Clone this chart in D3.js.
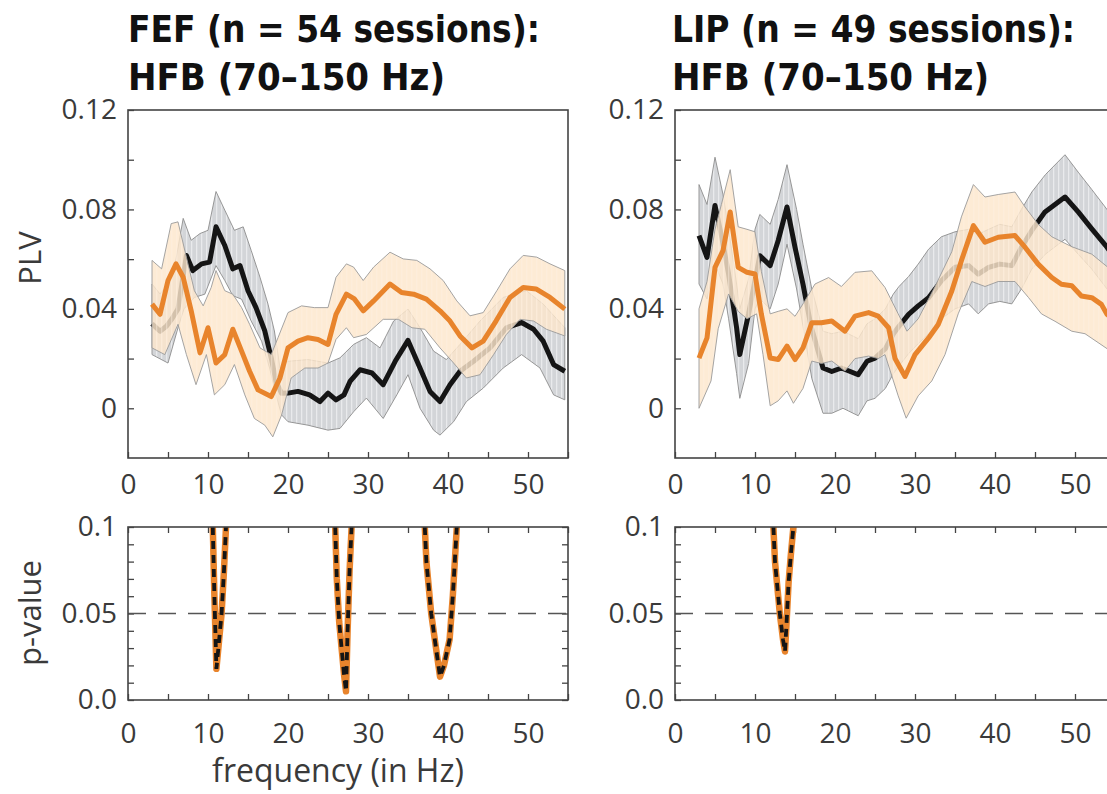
<!DOCTYPE html>
<html>
<head>
<meta charset="utf-8">
<script src="https://cdn.jsdelivr.net/npm/d3@7"></script>
<style>
    body { margin: 0; background: #fff; }
    svg text { font-family: "Open Sans", "Noto Sans", sans-serif; fill: #3a3a3a; }
    svg text.title { font-family: "DejaVu Sans Condensed", "DejaVu Sans", sans-serif; font-weight: bold; fill: #111; }
</style>
</head>
<body>
<svg id="chart" width="1107" height="794"></svg>
<script>
// 数据: [频率 Hz, 值]
const fefBlackMean = [[3,0.034],[4,0.031],[4.8,0.033],[5.5,0.036],[6.25,0.040],[7.3,0.0615],[8.1,0.0554],[9.2,0.0581],[10.2,0.0588],[11,0.0730],[12.1,0.0655],[13.1,0.0561],[14,0.0574],[15,0.0473],[16,0.0405],[17.1,0.0311],[17.9,0.0203],[18.5,0.0108],[19.2,0.006],[20,0.0061],[21.25,0.0068],[22.7,0.0054],[24,0.0027],[25,0.0061],[26,0.0034],[27,0.0054],[27.75,0.0108],[29,0.0155],[30.5,0.0142],[31.9,0.0095],[33.4,0.0189],[35,0.0273],[36.5,0.0162],[37.75,0.0068],[39,0.0027],[40.25,0.0095],[41.5,0.0149],[43.2,0.0189],[45.25,0.0243],[47.3,0.0324],[49.2,0.0345],[50.7,0.0318],[51.9,0.0270],[53.2,0.0176],[54.6,0.0149]];
const fefBlackUpper = [[3,0.050],[4,0.046],[5,0.050],[6,0.060],[6.9,0.0764],[7.9,0.0676],[9,0.0703],[10,0.0716],[11,0.0872],[12.1,0.0797],[13.3,0.0716],[14.4,0.0730],[15.4,0.0635],[16.5,0.0527],[17.5,0.0419],[18.3,0.0311],[19,0.0162],[20,0.0189],[22.5,0.0196],[25,0.0182],[26.5,0.0203],[28.2,0.0257],[29.8,0.0284],[31.5,0.0243],[33.2,0.0351],[35,0.0399],[36.5,0.0324],[38.2,0.0230],[39.8,0.0196],[41.5,0.0257],[44,0.0351],[46.9,0.0446],[49.8,0.0473],[51.9,0.0419],[54.6,0.0324]];
const fefBlackLower = [[3,0.0216],[5,0.0182],[6.25,0.0324],[7,0.040],[8.3,0.0446],[9.6,0.0459],[11,0.0574],[12.1,0.0514],[13.1,0.0453],[14.2,0.0439],[15.4,0.0351],[16.7,0.0270],[17.7,0.0162],[18.5,0.0054],[19.2,-0.0027],[20,-0.0054],[22.5,-0.0068],[25,-0.0088],[26.5,-0.0081],[28.2,-0.0014],[29.8,0.0041],[31.9,-0.0041],[33.6,0.0054],[35,0.0135],[36.5,0],[38.2,-0.0088],[39,-0.0108],[40.7,-0.0054],[42.3,0.0027],[44.4,0.0081],[46.9,0.0162],[49.2,0.0216],[51.5,0.0162],[53.2,0.0054],[54.6,0.0034]];
const fefOrangeMean = [[3,0.0419],[4,0.0378],[5,0.0514],[6,0.0581],[6.9,0.0527],[7.9,0.0392],[9,0.0223],[10,0.0324],[11,0.0182],[12.1,0.0216],[13.1,0.0318],[14.2,0.0230],[15.2,0.0149],[16.25,0.0074],[17.9,0.0047],[19,0.0122],[20,0.0243],[21.25,0.0270],[22.5,0.0284],[23.75,0.0277],[25,0.0257],[26,0.0378],[27.3,0.0459],[28.3,0.0440],[29.4,0.0392],[30.7,0.0432],[32.75,0.0500],[34.2,0.0466],[35.7,0.0459],[37.3,0.0439],[39,0.0392],[40.25,0.0351],[41.5,0.0291],[43,0.0243],[44.4,0.0270],[46,0.0351],[47.75,0.0446],[49.4,0.0486],[51,0.0480],[52.75,0.0446],[54.6,0.0399]];
const fefOrangeUpper = [[3,0.0595],[4.2,0.0561],[5.4,0.0743],[6.25,0.0750],[7.3,0.0608],[8.3,0.0473],[9.4,0.0412],[10.4,0.0486],[11,0.0554],[12.1,0.0473],[13.1,0.0459],[14.2,0.0405],[15.2,0.0338],[16.5,0.0243],[17.9,0.0216],[18.75,0.0284],[20,0.0385],[21.7,0.0412],[23.3,0.0405],[25,0.0405],[26,0.0527],[27.3,0.0581],[28.2,0.0568],[29.4,0.0514],[30.7,0.0568],[32.75,0.0628],[34.4,0.0601],[36.1,0.0595],[37.75,0.0561],[39.4,0.0514],[41.1,0.0432],[42.75,0.0372],[44.4,0.0385],[46.1,0.0473],[47.75,0.0561],[49.4,0.0615],[51.1,0.0608],[52.75,0.0581],[54.6,0.0554]];
const fefOrangeLower = [[3,0.0243],[4.6,0.0216],[6.25,0.0338],[7.3,0.0216],[8.5,0.0095],[9.8,0.0216],[10.8,0.0054],[12.1,0.0095],[13.3,0.0176],[14.6,0.0054],[15.8,-0.0041],[17.1,-0.0068],[18.1,-0.0115],[19.2,-0.0027],[20.4,0.0122],[22.1,0.0162],[23.75,0.0162],[25,0.0182],[26,0.0277],[27.3,0.0324],[28.2,0.0284],[29.8,0.0297],[31.9,0.0358],[33.8,0.0358],[35.5,0.0324],[37.1,0.0318],[39,0.0243],[40.7,0.0182],[42.3,0.0122],[44,0.0135],[45.7,0.0216],[47.3,0.0297],[49,0.0358],[50.7,0.0351],[52.3,0.0318],[54.6,0.0291]];

const lipBlackMean = [[3,0.0695],[4,0.0607],[5,0.0816],[5.8,0.0695],[6.7,0.054],[7.7,0.0324],[8.1,0.0216],[9.2,0.038],[10.6,0.0614],[11.9,0.0574],[12.9,0.0675],[14,0.081],[15,0.0648],[16,0.0499],[17,0.033],[18.5,0.0162],[19.6,0.0148],[20.8,0.0162],[21.9,0.0148],[22.9,0.0135],[24,0.0189],[25,0.0202],[26.3,0.024],[27.3,0.030],[28,0.033],[29.2,0.0378],[30.4,0.0412],[31.7,0.0445],[33.3,0.0513],[35,0.0567],[36.7,0.0574],[37.9,0.054],[39.2,0.0567],[40.6,0.058],[42.1,0.0574],[43.3,0.0648],[44.6,0.0715],[46.25,0.079],[48.75,0.085],[50.4,0.079],[52.1,0.0722],[54,0.0648],[55.5,0.058]];
const lipBlackUpper = [[3,0.090],[4,0.082],[5,0.101],[6,0.086],[6.7,0.072],[7.7,0.050],[8.1,0.040],[9.2,0.052],[10,0.072],[10.6,0.078],[11.9,0.074],[12.9,0.084],[14,0.098],[15.2,0.080],[16,0.066],[17.1,0.048],[18.5,0.031],[19.6,0.030],[21,0.031],[22.9,0.028],[24,0.034],[25,0.036],[26.3,0.040],[27.3,0.046],[28,0.049],[29.2,0.053],[30.4,0.058],[31.7,0.064],[33.3,0.069],[35,0.071],[36.7,0.072],[37.9,0.070],[39.2,0.072],[40.6,0.074],[42.1,0.073],[43.3,0.080],[44.6,0.087],[46.3,0.094],[48.75,0.102],[50.4,0.095],[52.1,0.088],[54,0.080],[55.5,0.074]];
const lipBlackLower = [[3,0.050],[4,0.044],[5,0.058],[6,0.050],[6.7,0.036],[7.7,0.014],[8.1,0.004],[9.2,0.018],[10,0.040],[10.6,0.044],[11.9,0.040],[12.9,0.050],[14,0.066],[15.2,0.048],[16,0.033],[17.1,0.012],[18.5,-0.002],[19.6,-0.002],[21,0.000],[22.9,-0.003],[24,0.003],[25,0.004],[26.3,0.008],[27.3,0.014],[28,0.017],[29.2,0.022],[30.4,0.026],[31.7,0.030],[33.3,0.036],[35,0.040],[36.7,0.042],[37.9,0.038],[39.2,0.042],[40.6,0.043],[42.1,0.042],[43.3,0.048],[44.6,0.056],[46.3,0.062],[48.75,0.068],[50.4,0.062],[52.1,0.056],[54,0.048],[55.5,0.042]];
const lipOrangeMean = [[3,0.0202],[4,0.0283],[5,0.0567],[6,0.0634],[6.9,0.079],[7.9,0.0567],[9,0.0547],[10,0.054],[10.8,0.0378],[11.9,0.0202],[12.9,0.0196],[14,0.025],[15,0.0196],[16,0.0243],[17.1,0.0344],[18.3,0.0344],[19.6,0.0351],[21.25,0.031],[22.5,0.0371],[24.2,0.0385],[25.4,0.0371],[26.7,0.0324],[27.5,0.0200],[28.75,0.0128],[30,0.0216],[31.7,0.0283],[32.9,0.0337],[34.6,0.0472],[35.8,0.0594],[37.3,0.0735],[38.75,0.0668],[40.4,0.0688],[42.5,0.0695],[43.75,0.0648],[45.4,0.058],[47.1,0.0526],[48.3,0.0499],[49.6,0.0493],[50.8,0.0452],[52.1,0.0445],[53.3,0.0418],[54,0.0378],[55.5,0.034]];
const lipOrangeUpper = [[3,0.040],[4,0.051],[5,0.072],[5.8,0.082],[6.9,0.096],[7.9,0.073],[9,0.072],[10,0.071],[10.8,0.055],[11.9,0.038],[12.9,0.039],[14,0.040],[15,0.037],[16,0.042],[17.5,0.050],[19.2,0.0526],[20.8,0.049],[22.5,0.0547],[24.6,0.0553],[26.25,0.0486],[27.9,0.038],[29,0.031],[30.4,0.036],[32.5,0.049],[34.6,0.063],[35.8,0.077],[37.3,0.090],[38.75,0.085],[40.4,0.086],[42.5,0.087],[43.75,0.081],[45.4,0.074],[47.1,0.069],[49.6,0.065],[52.1,0.062],[54,0.057],[55.5,0.053]];
const lipOrangeLower = [[3,0.000],[4.5,0.011],[5.4,0.032],[6.7,0.046],[7.9,0.039],[9,0.036],[10.2,0.038],[11,0.0216],[11.9,0.001],[12.9,0.003],[14,0.007],[14.8,0.002],[16,0.008],[17.1,0.019],[18.3,0.018],[19.6,0.019],[21.25,0.015],[22.5,0.020],[24.2,0.021],[25.4,0.020],[26.25,0.0216],[27.9,0.005],[28.9,-0.004],[30.4,0.005],[32.1,0.011],[33.75,0.0216],[35.4,0.038],[37.1,0.051],[38.75,0.049],[40.4,0.051],[42.5,0.051],[44.2,0.0445],[45.8,0.038],[47.5,0.035],[49.6,0.031],[51.25,0.030],[54,0.024],[55.5,0.020]];

// p 值曲线 (每段一个凹陷)
const fefPValues = [
    [[10.6,0.1],[10.8,0.06],[11.05,0.018],[11.4,0.035],[11.7,0.05],[12.0,0.075],[12.25,0.1]],
    [[25.9,0.1],[26.1,0.07],[26.4,0.045],[26.7,0.03],[27.0,0.015],[27.25,0.005],[27.45,0.04],[27.7,0.075],[27.95,0.1]],
    [[37.1,0.1],[37.3,0.08],[37.9,0.05],[38.5,0.03],[39.0,0.0135],[39.5,0.02],[40.2,0.035],[40.6,0.06],[41.1,0.1]]
];
const lipPValues = [
    [[12.3,0.1],[12.5,0.08],[13.1,0.05],[13.5,0.035],[13.75,0.028],[13.95,0.045],[14.2,0.068],[14.5,0.085],[14.8,0.1]]
];

// 刻度
const freqTicks = [0, 5, 10, 15, 20, 25, 30, 35, 40, 45, 50, 55];
const plvTicks = [0, 0.02, 0.04, 0.06, 0.08, 0.10, 0.12];
const plvLabelValues = [0, 0.04, 0.08, 0.12];
const plvLabelText = ["0", "0.04", "0.08", "0.12"];
const pTicks = [0, 0.01, 0.02, 0.03, 0.04, 0.05, 0.06, 0.07, 0.08, 0.09, 0.1];
const pLabelValues = [0, 0.05, 0.1];
const pLabelText = ["0.0", "0.05", "0.1"];
const pThreshold = 0.05;

const panels = [
    { left: 128, titleX: 128, title: ["FEF (n = 54 sessions):", "HFB (70–150 Hz)"], titleLen: [412, 317],
      blackMean: fefBlackMean, blackUpper: fefBlackUpper, blackLower: fefBlackLower,
      orangeMean: fefOrangeMean, orangeUpper: fefOrangeUpper, orangeLower: fefOrangeLower, pValues: fefPValues },
    { left: 675, titleX: 672, title: ["LIP (n = 49 sessions):", "HFB (70–150 Hz)"], titleLen: [403, 317],
      blackMean: lipBlackMean, blackUpper: lipBlackUpper, blackLower: lipBlackLower,
      orangeMean: lipOrangeMean, orangeUpper: lipOrangeUpper, orangeLower: lipOrangeLower, pValues: lipPValues }
];

const ORANGE = "#e8842c";
const BLACK = "#151515";
const plotW = 440;
const topY = 110, topH = 348;
const botY = 527, botH = 173;

const svg = d3.select("#chart");

// 竖条纹填充 (MATLAB 风格)
const defs = svg.append("defs");
function stripePattern(id, base, baseOpacity, stripe, stripeOpacity) {
    const p = defs.append("pattern")
        .attr("id", id)
        .attr("patternUnits", "userSpaceOnUse")
        .attr("width", 5)
        .attr("height", 10);
    p.append("rect").attr("width", 5).attr("height", 10)
        .attr("fill", base).attr("fill-opacity", baseOpacity);
    p.append("rect").attr("x", 3).attr("width", 1.3).attr("height", 10)
        .attr("fill", stripe).attr("fill-opacity", stripeOpacity);
}
stripePattern("grayStripes", "#d3d5d8", 1, "#e9eaec", 1);
stripePattern("orangeStripes", "#fce6cc", 0.82, "#fdf1e2", 0.45);

const x = d3.scaleLinear().domain([0, 55]).range([0, plotW]);
const yPlv = d3.scaleLinear().domain([-0.02, 0.12]).range([topH, 0]);
const yP = d3.scaleLinear().domain([0, 0.1]).range([botH, 0]);

const linePlv = d3.line().x(d => x(d[0])).y(d => yPlv(d[1]));
const lineP = d3.line().x(d => x(d[0])).y(d => yP(d[1]));

function bandPath(upper, lower) {
    return linePlv(upper.concat(lower.slice().reverse())) + "Z";
}

function labelFormat(values, texts) {
    return v => {
        const i = values.indexOf(v);
        return i < 0 ? "" : texts[i];
    };
}

function styleAxis(g) {
    g.select(".domain").remove();
    g.selectAll(".tick line").attr("stroke", "#444").attr("stroke-width", 1.3);
    g.selectAll(".tick text")
        .attr("fill", "#3a3a3a")
        .style("font-size", "28px")
        .style("font-family", "'Open Sans', sans-serif");
}

function drawPlvPanel(p, idx) {
    const g = svg.append("g").attr("transform", `translate(${p.left},${topY})`);

    g.append("clipPath").attr("id", "clipTop" + idx)
        .append("rect").attr("width", plotW).attr("height", topH);

    const plot = g.append("g").attr("clip-path", `url(#clipTop${idx})`);

    // 黑色置信带和均值
    plot.append("path")
        .attr("d", bandPath(p.blackUpper, p.blackLower))
        .attr("fill", "url(#grayStripes)")
        .attr("stroke", "#8c8c8c")
        .attr("stroke-width", 0.9);
    plot.append("path")
        .datum(p.blackMean)
        .attr("d", linePlv)
        .attr("fill", "none")
        .attr("stroke", BLACK)
        .attr("stroke-width", 5)
        .attr("stroke-linejoin", "round");

    // 橙色置信带 (半透明) 和均值
    plot.append("path")
        .attr("d", bandPath(p.orangeUpper, p.orangeLower))
        .attr("fill", "url(#orangeStripes)")
        .attr("stroke", "#9a9a9a")
        .attr("stroke-width", 0.9);
    plot.append("path")
        .datum(p.orangeMean)
        .attr("d", linePlv)
        .attr("fill", "none")
        .attr("stroke", ORANGE)
        .attr("stroke-width", 5)
        .attr("stroke-linejoin", "round");

    // 坐标轴
    g.append("g")
        .attr("transform", `translate(0,${topH})`)
        .call(d3.axisBottom(x).tickValues(freqTicks).tickSize(-6).tickPadding(16)
            .tickFormat(v => v % 10 === 0 ? v : ""))
        .call(styleAxis);
    g.append("g")
        .call(d3.axisLeft(yPlv).tickValues(plvTicks).tickSize(-6).tickPadding(11)
            .tickFormat(labelFormat(plvLabelValues, plvLabelText)))
        .call(styleAxis);

    g.append("rect")
        .attr("width", plotW).attr("height", topH)
        .attr("fill", "none").attr("stroke", "#444").attr("stroke-width", 1.6);

    // 标题
    p.title.forEach((t, i) => {
        svg.append("text")
            .attr("class", "title")
            .attr("x", p.titleX)
            .attr("y", 42 + i * 48)
            .attr("textLength", p.titleLen[i])
            .attr("lengthAdjust", "spacingAndGlyphs")
            .style("font-size", "38px")
            .text(t);
    });
}

function drawPPanel(p, idx) {
    const g = svg.append("g").attr("transform", `translate(${p.left},${botY})`);

    g.append("clipPath").attr("id", "clipBot" + idx)
        .append("rect").attr("width", plotW).attr("height", botH);

    // 四周刻度
    g.append("g")
        .attr("transform", `translate(0,${botH})`)
        .call(d3.axisBottom(x).tickValues(freqTicks).tickSize(-6).tickPadding(23)
            .tickFormat(v => v % 10 === 0 ? v : ""))
        .call(styleAxis);
    g.append("g")
        .call(d3.axisTop(x).tickValues(freqTicks).tickSize(-6).tickFormat(""))
        .call(styleAxis);
    g.append("g")
        .call(d3.axisLeft(yP).tickValues(pTicks).tickSize(-6).tickPadding(11)
            .tickFormat(labelFormat(pLabelValues, pLabelText)))
        .call(styleAxis);
    g.append("g")
        .attr("transform", `translate(${plotW},0)`)
        .call(d3.axisRight(yP).tickValues(pTicks).tickSize(-6).tickFormat(""))
        .call(styleAxis);

    // p = 0.05 虚线
    g.append("line")
        .attr("x1", 0).attr("x2", plotW)
        .attr("y1", yP(pThreshold)).attr("y2", yP(pThreshold))
        .attr("stroke", "#555")
        .attr("stroke-width", 1.6)
        .attr("stroke-dasharray", "18,12");

    const plot = g.append("g").attr("clip-path", `url(#clipBot${idx})`);
    p.pValues.forEach(seg => {
        plot.append("path")
            .datum(seg)
            .attr("d", lineP)
            .attr("fill", "none")
            .attr("stroke", ORANGE)
            .attr("stroke-width", 6.5)
            .attr("stroke-linejoin", "round")
            .attr("stroke-linecap", "round");
        plot.append("path")
            .datum(seg)
            .attr("d", lineP)
            .attr("fill", "none")
            .attr("stroke", BLACK)
            .attr("stroke-width", 3.8)
            .attr("stroke-dasharray", "8,6");
    });

    g.append("rect")
        .attr("width", plotW).attr("height", botH)
        .attr("fill", "none").attr("stroke", "#444").attr("stroke-width", 1.6);
}

panels.forEach((p, i) => {
    drawPlvPanel(p, i);
    drawPPanel(p, i);
});

// 轴标题
svg.append("text")
    .attr("transform", "translate(41,258) rotate(-90)")
    .attr("text-anchor", "middle")
    .style("font-size", "31px")
    .text("PLV");
svg.append("text")
    .attr("transform", "translate(41,613) rotate(-90)")
    .attr("text-anchor", "middle")
    .style("font-size", "31px")
    .text("p-value");
svg.append("text")
    .attr("x", 338)
    .attr("y", 782)
    .attr("text-anchor", "middle")
    .style("font-size", "32px")
    .text("frequency (in Hz)");
</script>
</body>
</html>
